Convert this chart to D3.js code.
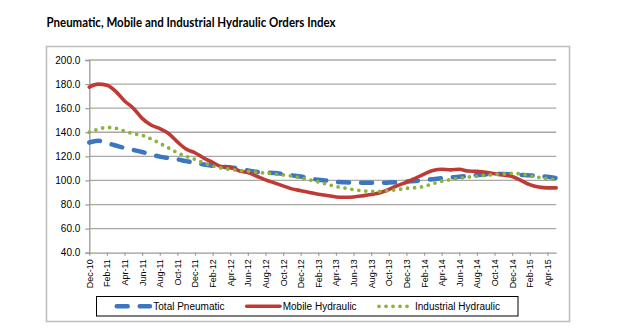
<!DOCTYPE html>
<html><head><meta charset="utf-8">
<script src="https://cdnjs.cloudflare.com/ajax/libs/d3/7.8.5/d3.min.js"></script>
<style>html,body{margin:0;padding:0;background:#fff;}svg{display:block;}</style>
</head><body>
<script>
const title = "Pneumatic, Mobile and Industrial Hydraulic Orders Index";
const months = ["Dec-10","Jan-11","Feb-11","Mar-11","Apr-11","May-11","Jun-11","Jul-11","Aug-11","Sep-11","Oct-11","Nov-11",
"Dec-11","Jan-12","Feb-12","Mar-12","Apr-12","May-12","Jun-12","Jul-12","Aug-12","Sep-12","Oct-12","Nov-12",
"Dec-12","Jan-13","Feb-13","Mar-13","Apr-13","May-13","Jun-13","Jul-13","Aug-13","Sep-13","Oct-13","Nov-13",
"Dec-13","Jan-14","Feb-14","Mar-14","Apr-14","May-14","Jun-14","Jul-14","Aug-14","Sep-14","Oct-14","Nov-14",
"Dec-14","Jan-15","Feb-15","Mar-15","Apr-15","May-15"];
const tickLabels = ["Dec-10","Feb-11","Apr-11","Jun-11","Aug-11","Oct-11","Dec-11","Feb-12","Apr-12","Jun-12","Aug-12","Oct-12",
"Dec-12","Feb-13","Apr-13","Jun-13","Aug-13","Oct-13","Dec-13","Feb-14","Apr-14","Jun-14","Aug-14","Oct-14","Dec-14","Feb-15","Apr-15"];
const yTicks = [40,60,80,100,120,140,160,180,200];
const seriesNames = ["Total Pneumatic","Mobile Hydraulic","Industrial Hydraulic"];
const totalPneumatic = [131.5,133,131,129,127,125.3,123.6,121.7,119.8,118.6,117.5,116,
114.6,113.2,112.2,111.4,110.8,109.8,108.3,107.2,106.5,106.2,105.4,104.3,
103.2,101.8,100.5,99.8,98.8,98.4,98.2,98,98,98,98.2,98.5,
99,99.6,100.3,101,101.8,102.4,103,103.8,104.5,105,105.2,105.3,
105,104.6,104.2,103.6,103,102];
const mobileHydraulic = [177.5,180,179,174,166,160,151.5,146,143,139,132,126,
123,118.5,115,111.5,111,108,106.5,103.5,100.5,98,95.5,93,
91.5,90,88.5,87.5,86.3,86,86.3,87.2,88.3,89.8,92.5,95.8,
98.5,101.8,105.3,108.2,109.3,108.8,109.3,107.8,107.5,106.8,105.5,104.5,
103.3,100,96.5,94.5,93.8,93.8];
const industrialHydraulic = [140,142.5,144,143.3,141,138.8,137.5,134.5,130.8,127,123,120,
117.5,114.5,112,110.3,109.2,108.3,107.6,106.8,106.1,105.4,104.6,103.6,
102.2,100.5,98.8,96.8,95,93.7,92.4,91.4,90.9,91,91.6,92.4,
93.4,94,95,97.3,99.3,100.7,101.8,102.8,103.5,104.3,104.8,105.3,
105.9,105.4,104,102.6,101.5,100.5];

const W = 620, H = 328;
const svg = d3.select("body").append("svg").attr("width", W).attr("height", H);
svg.append("rect").attr("x",0).attr("y",0).attr("width",W).attr("height",H).attr("fill","#fff");

// outer chart frame
svg.append("rect").attr("x",46.5).attr("y",46.5).attr("width",523).attr("height",275)
  .attr("fill","none").attr("stroke","#bdbdbd").attr("stroke-width",1.5);

// title
const t = svg.append("text").attr("x",46.5).attr("y",27).text(title)
  .attr("font-family","Lato, 'Liberation Sans', sans-serif").attr("font-weight","bold")
  .attr("font-size",12.5).attr("fill","#000");
const tl = t.node().getComputedTextLength();
if (Math.abs(tl-289) > 2) t.attr("textLength",289).attr("lengthAdjust","spacingAndGlyphs");

const x = d3.scalePoint().domain(months).range([89.3, 556.2]);
const y = d3.scaleLinear().domain([40,200]).range([252.7, 60]);

const axisColor = "#9a9a9a";
// gridlines
svg.append("g").selectAll("line").data(yTicks.filter(v=>v>40)).join("line")
  .attr("x1",89.3).attr("x2",556.2).attr("y1",d=>y(d)).attr("y2",d=>y(d))
  .attr("stroke","#a8a8a8").attr("stroke-width",1.3);

// y axis
const yAxis = svg.append("g").attr("transform","translate(89.3,0)")
  .call(d3.axisLeft(y).tickValues(yTicks).tickFormat(d3.format(".1f")).tickSize(4).tickPadding(5));
yAxis.select(".domain").attr("stroke",axisColor).attr("stroke-width",1.3);
yAxis.selectAll(".tick line").attr("stroke",axisColor).attr("stroke-width",1.2);
yAxis.selectAll("text").attr("font-family","'Liberation Sans', Arial, sans-serif").attr("font-size",10).attr("fill","#000");

// x axis
const xAxis = svg.append("g").attr("transform","translate(0,252.7)")
  .call(d3.axisBottom(x).tickValues(tickLabels).tickSize(3).tickSizeOuter(0));
xAxis.select(".domain").attr("stroke",axisColor).attr("stroke-width",1.3);
xAxis.selectAll(".tick line").attr("stroke",axisColor).attr("stroke-width",1.2);
xAxis.selectAll("text").attr("font-family","'Liberation Sans', Arial, sans-serif").attr("font-size",9).attr("fill","#000")
  .attr("transform","rotate(-90)").attr("text-anchor","end").attr("x",-6.5).attr("y",0).attr("dy","0.33em");

const line = d3.line().x((d,i)=>x(months[i])).y(d=>y(d)).curve(d3.curveMonotoneX);
const styles = [
  {data: totalPneumatic, color:"#3d76c0", width:4.5, dash:"11 12", cap:"round"},
  {data: mobileHydraulic, color:"#bf3a35", width:3.6, dash:null, cap:"round"},
  {data: industrialHydraulic, color:"#8db33e", width:3.8, dash:"0 7", cap:"round"}
];
styles.forEach(s=>{
  svg.append("path").datum(s.data).attr("d",line).attr("fill","none")
    .attr("stroke",s.color).attr("stroke-width",s.width).attr("stroke-linecap",s.cap)
    .attr("stroke-linejoin","round").attr("stroke-dasharray",s.dash);
});

// legend
const lg = svg.append("g");
lg.append("rect").attr("x",96.5).attr("y",296.5).attr("width",421.5).attr("height",19.5)
  .attr("fill","#fff").attr("stroke","#000").attr("stroke-width",1);
const legendPos = [{x0:116.7,x1:150,tx:153.3},{x0:246.7,x1:280,tx:282.7},{x0:379,x1:411.7,tx:415}];
legendPos.forEach((p,i)=>{
  const s = styles[i];
  lg.append("line").attr("x1",p.x0).attr("x2",p.x1).attr("y1",306.3).attr("y2",306.3)
    .attr("stroke",s.color).attr("stroke-width",s.width).attr("stroke-linecap",s.cap)
    .attr("stroke-dasharray",s.dash);
  lg.append("text").attr("x",p.tx).attr("y",309.8).text(seriesNames[i])
    .attr("font-family","'Liberation Sans', Arial, sans-serif").attr("font-size",10).attr("fill","#000");
});
</script>
</body></html>
